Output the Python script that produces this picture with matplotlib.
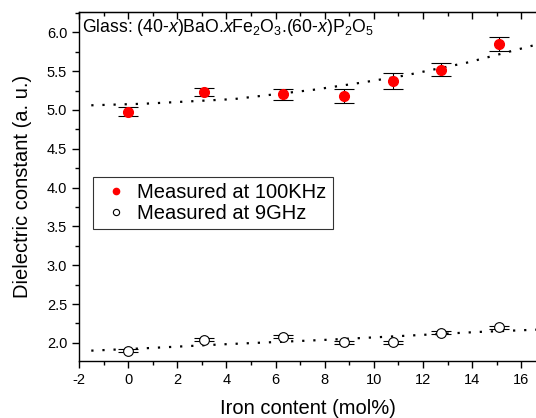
import matplotlib
matplotlib.use("Agg")
import matplotlib.pyplot as plt
from matplotlib.ticker import MultipleLocator, FormatStrFormatter

plt.rcParams["font.family"] = "sans-serif"
plt.rcParams["font.sans-serif"] = ["Liberation Sans", "DejaVu Sans"]
plt.rcParams["mathtext.fontset"] = "custom"
plt.rcParams["mathtext.rm"] = "Liberation Sans"
plt.rcParams["mathtext.it"] = "Liberation Sans:italic"
plt.rcParams["axes.unicode_minus"] = False

# iron content (mol%)
iron = [0.0, 3.1, 6.3, 8.8, 10.8, 12.75, 15.1]

# measured at 100 kHz
eps_khz = [4.98, 5.23, 5.20, 5.18, 5.37, 5.52, 5.85]
err_khz = [0.06, 0.05, 0.07, 0.09, 0.10, 0.08, 0.09]

# measured at 9 GHz
eps_ghz = [1.90, 2.04, 2.08, 2.01, 2.01, 2.13, 2.20]
err_ghz = [0.02, 0.02, 0.02, 0.02, 0.02, 0.02, 0.02]

# dotted trend lines
fit_x_hi = [-1.5, 0.65, 4.3, 7.55, 9.46, 11.2, 13.8, 16.6]
fit_y_hi = [5.06, 5.08, 5.14, 5.26, 5.35, 5.44, 5.61, 5.84]
fit_x_lo = [-1.5, 0.65, 3.77, 8.1, 11.2, 14.2, 16.6]
fit_y_lo = [1.90, 1.93, 1.98, 2.04, 2.09, 2.14, 2.17]

fig = plt.figure(figsize=(5.36, 4.18), dpi=100)
ax = fig.add_axes([0.1474, 0.137, 0.8526, 0.834])

ax.plot(fit_x_hi, fit_y_hi, linestyle=(0, (1, 4)), color="black",
        linewidth=1.6, zorder=1)
ax.plot(fit_x_lo, fit_y_lo, linestyle=(0, (1, 4)), color="black",
        linewidth=1.6, zorder=1)

ax.errorbar(iron, eps_khz, yerr=err_khz, fmt="o", color="red",
            markersize=7, ecolor="black", elinewidth=0.8, capsize=7.5,
            capthick=0.8, zorder=3)
ax.errorbar(iron, eps_ghz, yerr=err_ghz, fmt="o", mfc="white", mec="black",
            markersize=7, mew=0.8, ecolor="black", elinewidth=0.8,
            capsize=7.5, capthick=0.8, zorder=3)

# legend handles
h1, = ax.plot([], [], "o", color="red", markersize=4.5)
h2, = ax.plot([], [], "o", mfc="white", mec="black", markersize=4.5, mew=0.8)
leg = ax.legend([h1, h2], ["Measured at 100KHz", "Measured at 9GHz"],
                loc="upper left", bbox_to_anchor=(0.031, 0.527),
                fontsize=14.5, frameon=True, fancybox=False,
                edgecolor="black", handlelength=1.7, handletextpad=0.2,
                borderpad=0.3, labelspacing=0.1, borderaxespad=0)
leg.get_frame().set_linewidth(0.8)

ax.text(0.006, 0.955, r"Glass: (40-$x$)BaO.$x$Fe$_2$O$_3$.(60-$x$)P$_2$O$_5$",
        transform=ax.transAxes, fontsize=12.7, ha="left", va="center")

ax.set_xlim(-2, 16.6)
ax.set_ylim(1.77, 6.26)
ax.xaxis.set_major_locator(MultipleLocator(2))
ax.xaxis.set_minor_locator(MultipleLocator(1))
ax.yaxis.set_major_locator(MultipleLocator(0.5))
ax.yaxis.set_minor_locator(MultipleLocator(0.25))
ax.yaxis.set_major_formatter(FormatStrFormatter("%.1f"))

ax.spines["right"].set_visible(False)
for s in ["left", "bottom", "top"]:
    ax.spines[s].set_linewidth(1.0)

ax.tick_params(axis="both", which="major", direction="out", length=5,
               width=1.0, labelsize=10.5)
ax.tick_params(axis="both", which="minor", direction="out", length=3,
               width=1.0)

# bottom ticks out, top ticks in: use a secondary axis for the top
sec = ax.secondary_xaxis("top")
sec.xaxis.set_major_locator(MultipleLocator(2))
sec.xaxis.set_minor_locator(MultipleLocator(1))
sec.tick_params(which="major", direction="in", length=5, width=1.0,
                labeltop=False)
sec.tick_params(which="minor", direction="in", length=3, width=1.0)

ax.set_xlabel("Iron content (mol%)", fontsize=14.5, labelpad=9)
ax.set_ylabel("Dielectric constant (a. u.)", fontsize=14.5, labelpad=11)

fig.savefig("out.png", dpi=100)
